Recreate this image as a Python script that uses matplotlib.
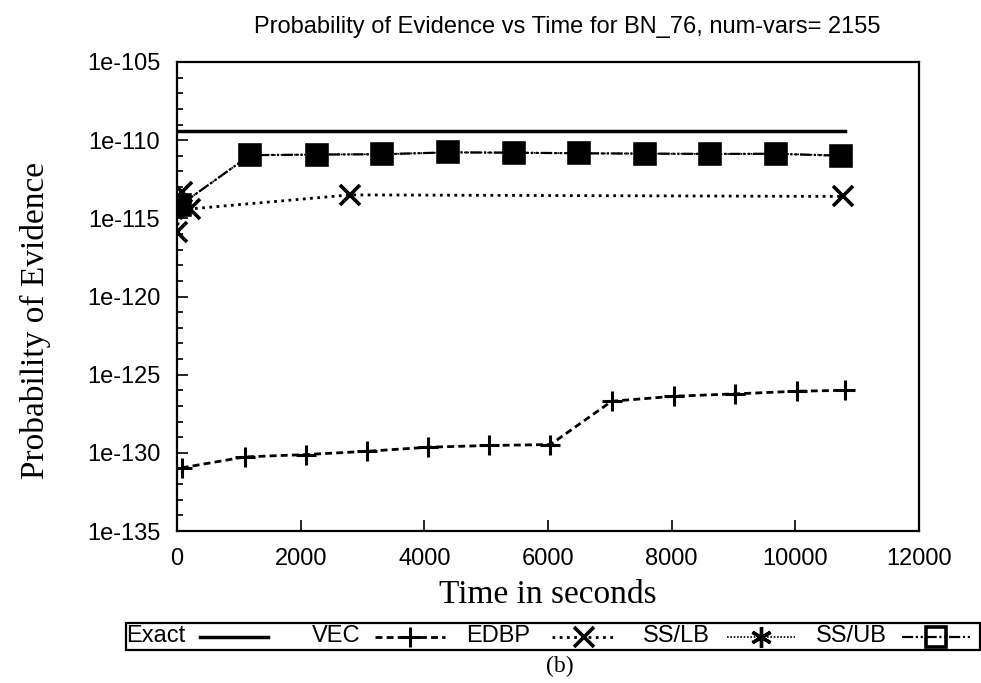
import matplotlib
matplotlib.use("Agg")
import matplotlib.pyplot as plt
from matplotlib.lines import Line2D
from matplotlib.patches import Rectangle
from matplotlib.ticker import FixedLocator, NullFormatter

# ── data (log10 of probability of evidence) ──────────────────────────────────
exact_t = [0, 10800]
exact_log = [-109.4, -109.4]

vec_t = [76, 1100, 2090, 3080, 4060, 5050, 6040, 7030, 8040, 9020, 10020, 10800]
vec_log = [-130.96, -130.26, -130.11, -129.9, -129.64, -129.53, -129.47,
           -126.7, -126.38, -126.23, -126.06, -126.0]

edbp_t = [0, 76, 210, 2800, 10770]
edbp_log = [-115.9, -113.3, -114.4, -113.5, -113.6]

sslb_t = [50, 1180, 2260, 3320, 4380, 5445, 6508, 7572, 8618, 9680, 10740]
sslb_log = [-114.16, -110.96, -110.92, -110.9, -110.78, -110.8, -110.84,
            -110.86, -110.88, -110.87, -110.98]

ssub_t = [50, 1180, 2260, 3320, 4380, 5445, 6508, 7572, 8618, 9680, 10740]
ssub_log = [-114.16, -110.96, -110.92, -110.9, -110.78, -110.8, -110.84,
            -110.86, -110.88, -110.87, -111.0]

ytick_exp = [-105, -110, -115, -120, -125, -130, -135]
xticks = [0, 2000, 4000, 6000, 8000, 10000, 12000]
series_names = ["Exact", "VEC", "EDBP", "SS/LB", "SS/UB"]


def tolin(v):
    return [10.0 ** x for x in v]


SANS = "Liberation Sans"
SERIF = "Liberation Serif"
W, H = 981, 683

# line styles per series (shared by plot and legend)
STY = {
    "Exact": dict(color="black", lw=2.5, ls="-"),
    "VEC":   dict(color="black", lw=2, ls=(0, (2.5, 1.5)), marker="+",
                  ms=15, mew=2.2),
    "EDBP":  dict(color="black", lw=2, ls=(0, (1, 1.6)), marker="x",
                  ms=14, mew=2.6),
    "SS/LB": dict(color="black", lw=1.2, ls=(0, (1, 1)), marker=(6, 2, 0),
                  ms=15, mew=2.4),
    "SS/UB": dict(color="black", lw=1.6, ls=(0, (5, 1.2, 1, 1.2, 1, 1.2)),
                  marker="s", ms=14, mew=2.6),
}

fig = plt.figure(figsize=(W / 100, H / 100), dpi=100)
ax = fig.add_axes([177 / W, 1 - 531 / H, (919 - 177) / W, (531 - 62) / H])

ax.plot(exact_t, tolin(exact_log), **STY["Exact"])
ax.plot(vec_t, tolin(vec_log), **STY["VEC"])
ax.plot(edbp_t, tolin(edbp_log), **STY["EDBP"])
ax.plot(sslb_t, tolin(sslb_log), **STY["SS/LB"])
ax.plot(ssub_t, tolin(ssub_log), mfc="black", **STY["SS/UB"])

ax.set_yscale("log")
ax.set_xlim(0, 12000)
ax.set_ylim(1e-135, 1e-105)
ax.yaxis.set_major_locator(FixedLocator([10.0 ** e for e in ytick_exp]))
ax.set_yticklabels([f"1e{e}" for e in ytick_exp])
ax.yaxis.set_minor_locator(FixedLocator([10.0 ** e for e in range(-135, -104)]))
ax.yaxis.set_minor_formatter(NullFormatter())
ax.set_xticks(xticks)
ax.set_xticklabels([str(x) for x in xticks])

ax.tick_params(axis="both", which="major", direction="in", length=8, width=1.2,
               labelsize=17, pad=12)
ax.tick_params(axis="y", which="minor", direction="in", length=4, width=1.2)
for lab in ax.get_xticklabels() + ax.get_yticklabels():
    lab.set_fontfamily(SANS)
for s in ax.spines.values():
    s.set_linewidth(1.6)

# ── texts ────────────────────────────────────────────────────────────────────
fig.text(567 / W, 1 - 27 / H,
         "Probability of Evidence vs Time for BN_76, num-vars= 2155",
         ha="center", va="center", fontsize=17, family=SANS)
fig.text(548 / W, 1 - 603 / H, "Time in seconds", ha="center", va="baseline",
         fontsize=24, family=SERIF)
fig.text(35 / W, 1 - 321 / H, "Probability of Evidence", ha="center",
         va="center", rotation=90, fontsize=24, family=SERIF)
fig.text(560 / W, 1 - 666 / H, "(b)", ha="center", va="center", fontsize=17,
         family=SERIF)

# ── legend (gnuplot style: label right-aligned, sample to its right) ────────
box_l, box_r, box_t, box_b = 126, 980, 623, 650
fig.add_artist(Rectangle((box_l / W, 1 - box_b / H), (box_r - box_l) / W,
                         (box_b - box_t) / H, transform=fig.transFigure,
                         fill=False, ec="black", lw=1.6))
ly = 1 - (box_t + box_b) / 2 / H
text_right = [185, 360, 530, 710, 887]
samp = [(200, 268), (375, 445), (552, 615), (727, 795), (902, 970)]
for name, tr, (s0, s1) in zip(series_names, text_right, samp):
    fig.text(tr / W, ly, name, ha="right", va="center", fontsize=17,
             family=SANS)
    st = dict(STY[name])
    fig.add_artist(Line2D([s0 / W, (s0 + s1) / 2 / W, s1 / W], [ly, ly, ly],
                          transform=fig.transFigure, markevery=[1],
                          mfc="none", **st))

fig.savefig("out.png", dpi=100, facecolor="white")
